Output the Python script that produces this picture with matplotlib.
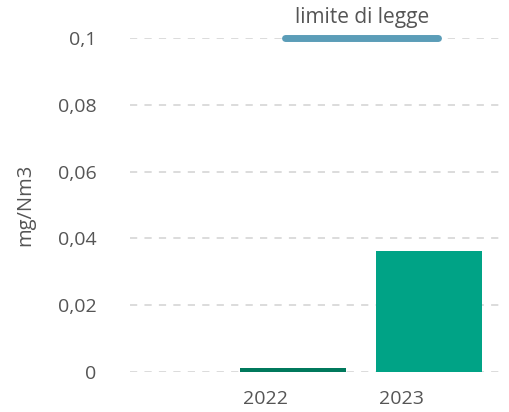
import matplotlib.pyplot as plt
from matplotlib.ticker import FuncFormatter

years = ["2022", "2023"]
values = [0.0012, 0.0362]
bar_colors = ["#00795c", "#00a386"]
limit_value = 0.1
limit_label = "limite di legge"
y_ticks = [0, 0.02, 0.04, 0.06, 0.08, 0.1]

plt.rcParams["font.family"] = ["Open Sans", "DejaVu Sans"]

fig = plt.figure(figsize=(5.09, 4.12), dpi=100)
ax = fig.add_axes([130 / 509, 40 / 412, 375 / 509, 334 / 412])

x = list(range(len(years)))
ax.bar(x, values, width=0.78, color=bar_colors, zorder=3)

# limit line across both bars
ax.plot([-0.06, 1.07], [limit_value, limit_value], color="#5b9db8", lw=5,
        solid_capstyle="round", clip_on=False, zorder=4)
ax.text(0.51, limit_value + 0.0062, limit_label, ha="center", va="center",
        fontsize=15, color="#555555")

ax.set_xlim(-1.2, 1.56)
ax.set_ylim(0, 0.1)
ax.set_yticks(y_ticks)
ax.yaxis.set_major_formatter(FuncFormatter(lambda v, p: ("%g" % round(v, 3)).replace(".", ",")))
# year labels sit a little left of the bar centres
ax.set_xticks([i - 0.2 for i in x])
ax.set_xticklabels(years)
ax.tick_params(axis="both", length=0, labelsize=14, labelcolor="#555555")
ax.tick_params(axis="y", pad=24)
ax.tick_params(axis="x", pad=13)

ax.grid(axis="y", color="#d9d9d9", linestyle=(0, (4, 4)), lw=1.3, zorder=0)
for s in ax.spines.values():
    s.set_visible(False)

fig.text(25 / 509, 1 - 205 / 412, "mg/Nm3", rotation=90, ha="center", va="center",
         fontsize=14.5, color="#555555")

fig.savefig("out.png", dpi=100)
